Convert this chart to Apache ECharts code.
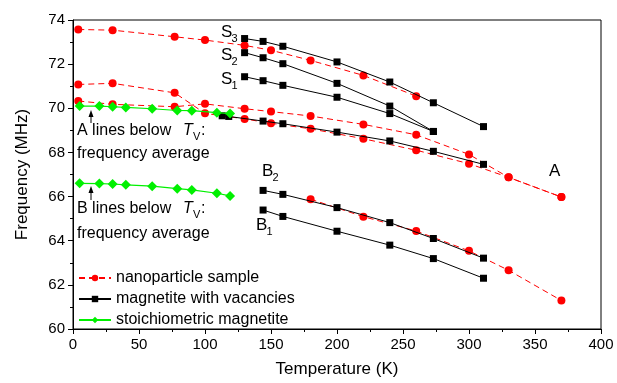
<!DOCTYPE html>
<html>
<head>
<meta charset="utf-8">
<script src="https://cdn.jsdelivr.net/npm/echarts@6/dist/echarts.min.js"></script>
<style>html,body{margin:0;padding:0;background:#fff}#c{width:617px;height:383px}</style>
</head>
<body>
<div id="c"></div>
<script>
// ---- data ----
const xTicks = [0, 50, 100, 150, 200, 250, 300, 350, 400];
const yTicks = [60, 62, 64, 66, 68, 70, 72, 74];

// nanoparticle sample (red)
const nanoTopT = [4, 30, 77, 100, 130, 150, 180, 220, 260];
const nanoTopF = [73.57, 73.54, 73.24, 73.09, 72.85, 72.63, 72.17, 71.49, 70.55];
const nanoA2T = [4, 30, 77, 100, 130, 150, 180, 220, 260, 300, 330, 370];
const nanoA2F = [71.08, 71.13, 70.70, 69.77, 69.52, 69.32, 69.07, 68.62, 68.10, 67.49, 66.87, 65.98];
const nanoA1T = [4, 30, 77, 100, 130, 150, 180, 220, 260, 300, 330, 370];
const nanoA1F = [70.33, 70.18, 70.07, 70.20, 69.98, 69.85, 69.65, 69.27, 68.80, 67.91, 66.87, 65.98];
const nanoBT = [180, 220, 260, 300, 330, 370];
const nanoBF = [65.88, 65.09, 64.44, 63.54, 62.66, 61.29];

// magnetite with vacancies (black)
const vacS3T = [130, 144, 159, 200, 240, 273, 311];
const vacS3F = [73.16, 73.03, 72.81, 72.10, 71.19, 70.25, 69.17];
const vacS2T = [130, 144, 159, 200, 240, 273];
const vacS2F = [72.52, 72.29, 72.02, 71.13, 70.10, 68.95];
const vacS1T = [130, 144, 159, 200, 240, 273];
const vacS1F = [71.43, 71.25, 71.04, 70.50, 69.76, 68.95];
const vacAT = [113, 118, 144, 159, 200, 240, 273, 311];
const vacAF = [69.66, 69.63, 69.42, 69.30, 68.92, 68.52, 68.05, 67.46];
const vacB2T = [144, 159, 200, 240, 273, 311];
const vacB2F = [66.28, 66.10, 65.50, 64.82, 64.10, 63.21];
const vacB1T = [144, 159, 200, 240, 273, 311];
const vacB1F = [65.39, 65.10, 64.43, 63.80, 63.19, 62.30];

// stoichiometric magnetite (green)
const stoT = [5, 20, 30, 40, 60, 79, 90, 109, 119];
const stoAF = [70.10, 70.10, 70.07, 70.04, 69.98, 69.90, 69.89, 69.80, 69.76];
const stoBF = [66.60, 66.59, 66.57, 66.53, 66.47, 66.36, 66.30, 66.15, 66.03];

const NAME_NANO = 'nanoparticle sample';
const NAME_VAC = 'magnetite with vacancies';
const NAME_STO = 'stoichiometric magnetite';

function pairs(t, f) { return t.map((v, i) => [v, f[i]]); }

const FONT = 'Liberation Sans, Arial, sans-serif';

function nano(t, f) {
  return { name: NAME_NANO, type: 'line', data: pairs(t, f), symbol: 'circle', symbolSize: 8,
    itemStyle: { color: '#ff0000' }, lineStyle: { color: '#ff0000', width: 1, type: [6, 4] }, z: 3 };
}
function vac(t, f) {
  return { name: NAME_VAC, type: 'line', data: pairs(t, f), symbol: 'rect', symbolSize: 7,
    itemStyle: { color: '#000000' }, lineStyle: { color: '#000000', width: 1 }, z: 4 };
}
function sto(t, f) {
  return { name: NAME_STO, type: 'line', data: pairs(t, f), symbol: 'diamond', symbolSize: 10,
    itemStyle: { color: '#00f000' }, lineStyle: { color: '#00f000', width: 1.2 }, z: 5 };
}

const chart = echarts.init(document.getElementById('c'), null, { renderer: 'canvas' });

function label(x, y, main, sub, size) {
  const s = size || 17;
  const els = [{ type: 'text', left: x, top: y, style: { text: main, font: s + 'px ' + FONT, fill: '#000' } }];
  if (sub) els.push({ type: 'text', left: x + s * 0.62, top: y + s * 0.55, style: { text: sub, font: '11px ' + FONT, fill: '#000' } });
  return els;
}
function tvLine(x, y, prefix, gap) {
  return [
    { type: 'text', left: x, top: y, style: { text: prefix, font: '16px ' + FONT, fill: '#000' } },
    { type: 'text', left: x + 106, top: y, style: { text: 'T', font: 'italic 16px ' + FONT, fill: '#000' } },
    { type: 'text', left: x + 116, top: y + 8, style: { text: 'V', font: '11px ' + FONT, fill: '#000' } },
    { type: 'text', left: x + 124, top: y, style: { text: ':', font: '16px ' + FONT, fill: '#000' } },
    { type: 'text', left: x, top: y + gap, style: { text: 'frequency average', font: '16px ' + FONT, fill: '#000' } }
  ];
}
function arrow(x, y1, y2) {
  return [
    { type: 'line', shape: { x1: x, y1: y1, x2: x, y2: y2 + 5 }, style: { stroke: '#000', lineWidth: 1 } },
    { type: 'polygon', shape: { points: [[x, y2], [x - 2.5, y2 + 7], [x + 2.5, y2 + 7]] }, style: { fill: '#000' } }
  ];
}

const graphics = [].concat(
  label(221, 24, 'S', '3'),
  label(221, 47, 'S', '2'),
  label(221, 71, 'S', '1'),
  label(262, 163, 'B', '2'),
  label(256, 217, 'B', '1'),
  label(549, 163, 'A', null),
  tvLine(77, 123, 'A lines below ', 23),
  tvLine(77, 201, 'B lines below ', 25),
  arrow(91, 123, 110),
  arrow(91, 200, 186)
);

chart.setOption({
  animation: false,
  backgroundColor: '#fff',
  textStyle: { fontFamily: FONT },
  grid: { left: 73, right: 16, top: 20, bottom: 53, show: true, borderColor: '#000', borderWidth: 1, containLabel: false },
  legend: {
    data: [NAME_NANO, NAME_VAC, NAME_STO],
    orient: 'vertical', left: 73, top: 265, itemWidth: 32, itemHeight: 8, itemGap: 5,
    textStyle: { fontSize: 16, color: '#000', fontFamily: FONT }
  },
  xAxis: {
    type: 'value', min: xTicks[0], max: xTicks[xTicks.length - 1], interval: 50,
    name: 'Temperature (K)', nameLocation: 'middle', nameGap: 32,
    nameTextStyle: { fontSize: 17, color: '#000', fontFamily: FONT },
    axisLine: { lineStyle: { color: '#000', width: 1 } },
    axisTick: { show: true, inside: false, length: 5, lineStyle: { color: '#000' } },
    minorTick: { show: true, splitNumber: 2, length: 3, lineStyle: { color: '#000' } },
    axisLabel: { fontSize: 15, color: '#000', margin: 8, fontFamily: FONT },
    splitLine: { show: false }
  },
  yAxis: {
    type: 'value', min: yTicks[0], max: yTicks[yTicks.length - 1], interval: 2,
    name: 'Frequency (MHz)', nameLocation: 'middle', nameGap: 42,
    nameTextStyle: { fontSize: 17, color: '#000', fontFamily: FONT },
    axisLine: { show: true, lineStyle: { color: '#000', width: 1 } },
    axisTick: { show: true, inside: false, length: 5, lineStyle: { color: '#000' } },
    minorTick: { show: true, splitNumber: 2, length: 3, lineStyle: { color: '#000' } },
    axisLabel: { fontSize: 15, color: '#000', margin: 8, fontFamily: FONT },
    splitLine: { show: false }
  },
  series: [
    nano(nanoTopT, nanoTopF), nano(nanoA2T, nanoA2F), nano(nanoA1T, nanoA1F), nano(nanoBT, nanoBF),
    vac(vacS3T, vacS3F), vac(vacS2T, vacS2F), vac(vacS1T, vacS1F), vac(vacAT, vacAF), vac(vacB2T, vacB2F), vac(vacB1T, vacB1F),
    sto(stoT, stoAF), sto(stoT, stoBF)
  ],
  graphic: graphics
});
</script>
</body>
</html>
